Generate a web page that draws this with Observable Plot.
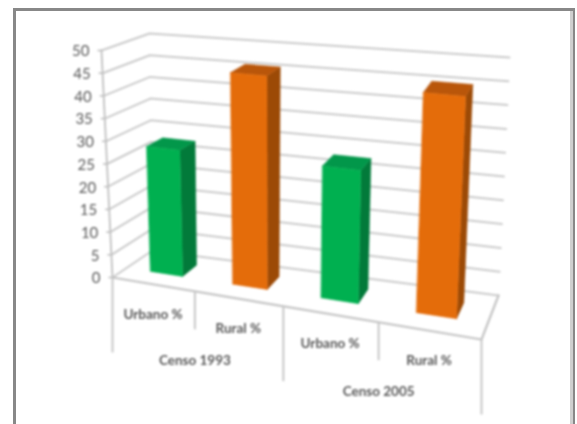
<!DOCTYPE html>
<html lang="es">
<head>
<meta charset="utf-8">
<script src="https://cdn.jsdelivr.net/npm/d3@7"></script>
<script src="https://cdn.jsdelivr.net/npm/@observablehq/plot@0.6"></script>
<style>
  html, body { margin: 0; padding: 0; background: #fff; width: 577px; height: 424px; overflow: hidden; }
  #frame { position: absolute; left: 13px; top: 8px; width: 557px; height: 430px;
           border-left: 3px solid #888; border-top: 3px solid #888; border-right: 2px solid #888; }
  #frame::after { content: ""; position: absolute; right: 0; top: 0; bottom: 0; width: 3px; background: #cfcfcf; }
  #chart { position: absolute; left: 0; top: 0; }
  #chart svg { filter: blur(0.85px); background: transparent; }
</style>
</head>
<body>
<div id="frame"></div>
<div id="chart"></div>
<script>
// ---- data ----
const censuses = ["Censo 1993", "Censo 2005"];
const groups = ["Urbano %", "Rural %", "Urbano %", "Rural %"];
const values = [27.8, 46, 28, 45.6];
const yTicks = [0, 5, 10, 15, 20, 25, 30, 35, 40, 45, 50];
const palette = {
  "Urbano %": {front: "#00b050", side: "#027a3a", top: "#02974a"},
  "Rural %": {front: "#e46c0a", side: "#9c4a06", top: "#b9560a"}
};

// ---- 3D box projection (category 0..1, value 0..50, depth 0 front .. 1 back) ----
const box = {
  fb: [112, 277], ft: [101, 50], bb: [152, 250], bt: [149, 33],
  rbb: [498, 295], rbt: [509, 57], rfb: [481, 339], rft: [493, 89]
};
const mix = (a, b, t) => [a[0] + (b[0] - a[0]) * t, a[1] + (b[1] - a[1]) * t];
const warp = (c) => c / (c + 1.16 * (1 - c));
function project(c, v, d) {
  const u = warp(c), t = v / 50;
  const bottom = mix(mix(box.fb, box.rfb, u), mix(box.bb, box.rbb, u), d);
  const top = mix(mix(box.ft, box.rft, u), mix(box.bt, box.rbt, u), d);
  return mix(bottom, top, t);
}
const pt = (c, v, d) => { const [x, y] = project(c, v, d); return {x, y}; };

// ---- derived mark tables ----
const grid = yTicks.flatMap((v) => [
  {v, ...pt(0, v, 0)}, {v, ...pt(0, v, 1)}, {v, ...pt(1, v, 1)}
]);
const floor = [pt(0, 0, 0), pt(1, 0, 0), pt(1, 0, 1)];
const axisLine = [pt(0, 0, 0), pt(0, 50, 0)];
const tickMarks = yTicks.map((v) => { const p = pt(0, v, 0); return {...p, x1: p.x - 4, v}; });
const yLabels = yTicks.map((v) => ({...pt(0, v, 0), v}));

const n = groups.length, halfBar = 0.05, d0 = 0.36, d1 = 0.74;
const faces = groups.flatMap((g, i) => {
  const c = (i + 0.5) / n, l = c - halfBar, r = c + halfBar, v = values[i], col = palette[g];
  return [
    {fill: col.side, pts: [pt(r, 0, d0), pt(r, 0, d1), pt(r, v, d1), pt(r, v, d0)]},
    {fill: col.top, pts: [pt(l, v, d0), pt(r, v, d0), pt(r, v, d1), pt(l, v, d1)]},
    {fill: col.front, pts: [pt(l, 0, d0), pt(r, 0, d0), pt(r, v, d0), pt(l, v, d0)]}
  ];
});

const dividers = [0, 1, 2, 3, 4].map((i) => {
  const p = pt(i / n, 0, 0);
  return {...p, y2: p.y + (i % 2 === 0 ? 75 : 38)};
});
const groupLabels = groups.map((g, i) => { const p = pt((i + 0.5) / n, 0, 0); return {x: p.x, y: p.y + 30, t: g}; });
const censusLabels = censuses.map((g, i) => { const p = pt((2 * i + 1) / n, 0, 0); return {x: p.x, y: p.y + 69, t: g}; });

const gridColor = "#cbcbcb", textColor = "#585858", font = "Lato, 'Open Sans', sans-serif";

const plot = Plot.plot({
  width: 577, height: 424, margin: 0,
  x: {domain: [0, 577], range: [0, 577], axis: null},
  y: {domain: [0, 424], range: [0, 424], axis: null},
  style: {background: "transparent", fontFamily: font},
  marks: [
    Plot.line(grid, {x: "x", y: "y", z: "v", stroke: gridColor, strokeWidth: 2}),
    Plot.line(floor, {x: "x", y: "y", stroke: "#c4c4c4", strokeWidth: 2.2}),
    ...faces.map((f) => Plot.line(f.pts, {x: "x", y: "y", fill: f.fill, stroke: f.fill, strokeWidth: 0.5, curve: "linear-closed"})),
    Plot.line(axisLine, {x: "x", y: "y", stroke: "#c0c0c0", strokeWidth: 1.8}),
    Plot.link(tickMarks, {x1: "x1", x2: "x", y1: "y", y2: "y", stroke: "#c0c0c0", strokeWidth: 1.6}),
    Plot.link(dividers, {x1: "x", x2: "x", y1: "y", y2: "y2", stroke: "#c4c4c4", strokeWidth: 1.9}),
    Plot.text(yLabels, {x: "x", y: "y", text: (d) => String(d.v), dx: -12, dy: 1, textAnchor: "end", fill: textColor, fontSize: 15}),
    Plot.text(groupLabels, {x: "x", y: "y", text: "t", fill: textColor, fontSize: 13.5, fontWeight: 700}),
    Plot.text(censusLabels, {x: "x", y: "y", text: "t", fill: textColor, fontSize: 13.5, fontWeight: 700})
  ]
});
document.getElementById("chart").appendChild(plot);
</script>
</body>
</html>
